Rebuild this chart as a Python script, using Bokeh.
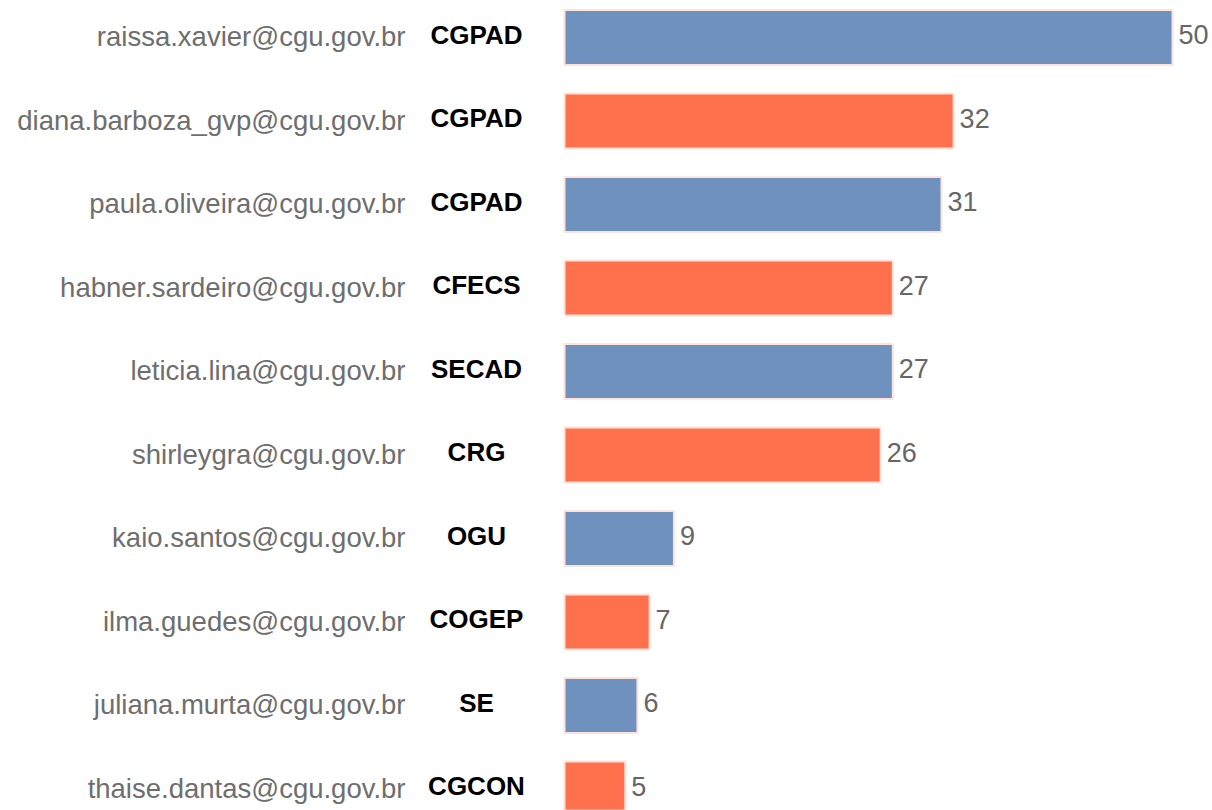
from bokeh.plotting import figure
from bokeh.models import ColumnDataSource, Range1d
from bokeh.core.properties import value
from bokeh.embed import file_html
from bokeh.resources import INLINE

emails = [
    "raissa.xavier@cgu.gov.br",
    "diana.barboza_gvp@cgu.gov.br",
    "paula.oliveira@cgu.gov.br",
    "habner.sardeiro@cgu.gov.br",
    "leticia.lina@cgu.gov.br",
    "shirleygra@cgu.gov.br",
    "kaio.santos@cgu.gov.br",
    "ilma.guedes@cgu.gov.br",
    "juliana.murta@cgu.gov.br",
    "thaise.dantas@cgu.gov.br",
]
units = ["CGPAD", "CGPAD", "CGPAD", "CFECS", "SECAD", "CRG", "OGU", "COGEP", "SE", "CGCON"]
counts = [50, 32, 31, 27, 27, 26, 9, 7, 6, 5]
palette = ["#6f91be", "#ff704d"]

rows = list(range(len(counts)))
bar_colors = [palette[i % 2] for i in rows]

W, H = 1212, 810
px_per_unit_x = 12.16
x0_px = 564  # position of zero inside the frame
row_px = 83.5
first_row_px = 37

x_start = -x0_px / px_per_unit_x
x_end = (W - x0_px) / px_per_unit_x
y_top = -first_row_px / row_px
y_bottom = (H - first_row_px) / row_px

src = ColumnDataSource(dict(
    y=rows, v=counts, email=emails, unit=units, color=bar_colors,
    email_x=[(405 - x0_px) / px_per_unit_x] * len(rows),
    unit_x=[(476 - x0_px) / px_per_unit_x] * len(rows),
))

p = figure(width=W, height=H, output_backend="svg", toolbar_location=None,
           x_range=Range1d(x_start, x_end), y_range=Range1d(y_bottom, y_top),
           min_border=0, min_border_left=0, min_border_right=0,
           min_border_top=0, min_border_bottom=0)
p.axis.visible = False
p.grid.visible = False
p.outline_line_color = None
p.background_fill_color = "white"

p.hbar(y="y", left=0, right="v", height=0.66, fill_color="color",
       line_color="#ffe2da", line_width=2, source=src)

p.text(x="email_x", y="y", text="email", source=src,
       text_font=value("Liberation Sans"), text_font_size="27.5px",
       text_color="#6e6e6e", text_align="right", text_baseline="middle",
       y_offset=-1)

p.text(x="unit_x", y="y", text="unit", source=src,
       text_font=value("Liberation Sans"), text_font_size="26px",
       text_font_style="bold", text_color="#000000", text_align="center",
       text_baseline="middle", y_offset=-3)

p.text(x="v", y="y", text="v", source=src,
       text_font=value("Liberation Sans"), text_font_size="27px",
       text_color="#666666", text_align="left", text_baseline="middle",
       x_offset=6, y_offset=-3)

open("out.html", "w").write(file_html(p, INLINE))
